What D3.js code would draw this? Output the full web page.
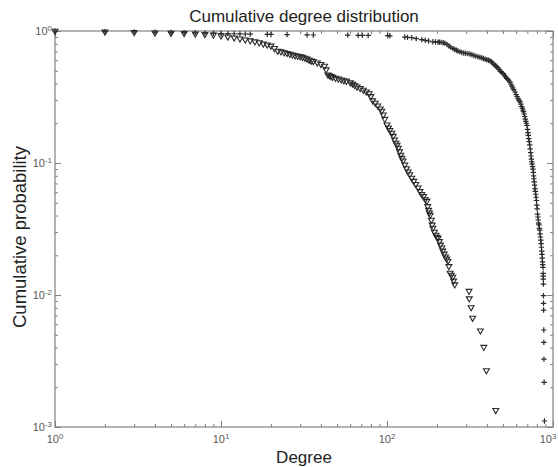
<!DOCTYPE html>
<html>
<head>
<meta charset="utf-8">
<script src="https://cdn.jsdelivr.net/npm/d3@7"></script>
<style>
  body { margin: 0; background: #fff; }
  svg { display: block; font-family: "Liberation Sans", Arial, sans-serif; }
</style>
</head>
<body>
<div id="chart"></div>
<script>
// degree values and cumulative probabilities
const triDegree = [1,2,3,4,5,6,7,8,9,10,11,12,13,14,15,16,17,18,19,20,21,22,23,24,25,26,27,28,29,30,
  31,32,33,34,35,36,38,40,42,43,44,45,46,47,49,51,53,55,57,60,62,64,66,69,72,75,78,80,82,85,88,91,93,95,97,
  100,102,104,107,109,111,113,115,117,119,121,123,125,128,131,134,137,141,145,149,154,158,162,166,170,174,
  176,178,180,182,185,187,189,193,197,200,203,207,210,214,217,221,225,229,233,236,240,244,249,252,256,
  312,313,321,328,365,383,397,452];
const triProb = [1,.985,.978,.972,.966,.96,.953,.945,.935,.922,.905,.89,.875,.86,.846,.832,.818,.80,.787,.772,
  .74,.706,.698,.688,.679,.669,.66,.652,.646,.64,.635,.625,.615,.603,.595,.59,.575,.56,.543,.51,.467,.46,.455,.448,
  .44,.434,.428,.422,.418,.408,.398,.388,.378,.368,.358,.347,.336,.32,.297,.285,.272,.258,.248,.232,.215,
  .195,.185,.177,.169,.16,.15,.142,.137,.13,.122,.115,.109,.104,.097,.091,.086,.082,.077,.073,.069,.065,.061,.058,
  .056,.053,.0515,.047,.044,.042,.0403,.037,.034,.0322,.030,.0285,.0275,.027,.0255,.024,.0228,.0216,.0205,.0195,
  .0188,.0181,.0165,.0147,.0142,.0137,.0128,.012,.0107,.0094,.00805,.0067,.00537,.00403,.00268,.00134];

const plusDegree = [1,2,3,4,5,6,7,8,9,10,11,12,13,14,15,19,20,25,33,36,58,67,71,77,101,104,128,133,141,150,
  162,170,178,189,196,203,207,212,218,223,230,236,242,250,256,262,268,275,282,290,298,307,316,325,334,343,353,
  363,372,381,390,399,408,417,425,433,441,450,458,466,474,482,491,502,510,518,526,534,542,551,558,565,572,580,
  591,600,608,616,624,633,640,647,653,659,664,670,676,681,686,691,697,702,706,710,714,719,724,729,733,737,741,
  745,749,753,757,761,764,767,771,775,779,783,787,791,795,799,803,807,811,815,819,823,828,832,836,840,844,848,
  852,855,858,861,864,867,870,872,873,874,875,876,877,878,880,881,882,884,888];
const plusProb = [1,.99,.985,.98,.976,.972,.968,.964,.96,.957,.955,.953,.951,.949,.947,.944,.942,.94,.935,.933,
  .93,.928,.927,.925,.922,.92,.9,.895,.89,.875,.86,.85,.84,.828,.826,.824,.823,.82,.815,.81,.79,.77,.755,.735,.725,
  .715,.705,.695,.688,.682,.678,.674,.67,.66,.652,.645,.638,.632,.626,.619,.612,.605,.6,.595,.585,.572,.558,.545,
  .538,.525,.51,.495,.485,.475,.462,.45,.438,.43,.42,.41,.395,.382,.37,.36,.345,.33,.318,.307,.298,.29,.279,.268,
  .26,.252,.245,.235,.225,.215,.207,.2,.193,.18,.17,.162,.153,.145,.137,.128,.12,.113,.107,.102,.098,.094,.09,.085,
  .08,.076,.072,.068,.064,.061,.058,.055,.052,.048,.045,.041,.039,.037,.035,.034,.032,.031,.029,.0275,.026,.0245,
  .023,.0215,.0203,.019,.0178,.017,.0162,.0146,.0139,.0132,.0121,.00988,.00865,.00769,.00543,.00438,.00327,.00218,.00111];

const xTicks = [1,10,100,1000];
const yTicks = [0.001,0.01,0.1,1];

const wid = 558, hei = 467;
const pLeft = 55, pRight = 553, pTop = 31, pBottom = 427;

const svg = d3.select("#chart").append("svg")
  .attr("width", wid).attr("height", hei);

const xScale = d3.scaleLog().domain([1,1000]).range([pLeft,pRight]);
const yScale = d3.scaleLog().domain([0.001,1]).range([pBottom,pTop]);

// minor ticks 2..9 in each decade
const minors = (lo, hi) => {
  const out = [];
  for (let p = lo; p < hi*0.999; p *= 10) for (let k = 2; k <= 9; k++) out.push(p*k);
  return out;
};
const xMinor = minors(1,1000), yMinor = minors(0.001,1);

const axisColor = "#808080";

// plot box
svg.append("rect")
  .attr("x",pLeft).attr("y",pTop).attr("width",pRight-pLeft).attr("height",pBottom-pTop)
  .attr("fill","none").attr("stroke",axisColor).attr("stroke-width",1.2);

function tickAxis(gen, values, size, pos){
  const g = svg.append("g").attr("transform",pos)
    .call(gen.tickValues(values).tickSizeInner(size).tickSizeOuter(0).tickFormat(""));
  g.select(".domain").remove();
  g.selectAll(".tick line").attr("stroke",axisColor);
  return g;
}

// inward ticks on all four sides
tickAxis(d3.axisBottom(xScale), xTicks, -6, `translate(0,${pBottom})`);
tickAxis(d3.axisBottom(xScale), xMinor, -3, `translate(0,${pBottom})`);
tickAxis(d3.axisTop(xScale), xTicks, -6, `translate(0,${pTop})`);
tickAxis(d3.axisTop(xScale), xMinor, -3, `translate(0,${pTop})`);
tickAxis(d3.axisLeft(yScale), yTicks, -6, `translate(${pLeft},0)`);
tickAxis(d3.axisLeft(yScale), yMinor, -3, `translate(${pLeft},0)`);
tickAxis(d3.axisRight(yScale), yTicks, -6, `translate(${pRight},0)`);
tickAxis(d3.axisRight(yScale), yMinor, -3, `translate(${pRight},0)`);

// tick labels as 10 with a raised exponent
const labelColor = "#5a5a5a";
const expLabel = (sel, d) => {
  sel.text("10");
  sel.append("tspan").attr("dy","-0.55em").attr("font-size","8px")
    .text(Math.round(Math.log10(d)));
};
svg.append("g").selectAll("text").data(xTicks).enter().append("text")
  .attr("x", d=>Math.min(xScale(d), wid-10)).attr("y", pBottom+16)
  .attr("text-anchor","middle").attr("font-size","11px").attr("fill",labelColor)
  .each(function(d){ expLabel(d3.select(this), d); });
svg.append("g").selectAll("text").data(yTicks).enter().append("text")
  .attr("x", pLeft-3).attr("y", d=>yScale(d)+4)
  .attr("text-anchor","end").attr("font-size","11px").attr("fill",labelColor)
  .each(function(d){ expLabel(d3.select(this), d); });

// series
const markColor = "#2a2a2a";
const triData = triDegree.map((k,i)=>[k,triProb[i]]);
const plusData = plusDegree.map((k,i)=>[k,plusProb[i]]);

svg.append("g").selectAll("path").data(triData).enter().append("path")
  .attr("transform", d=>`translate(${xScale(d[0])},${yScale(d[1])}) rotate(180)`)
  .attr("d", d3.symbol(d3.symbolTriangle, 15))
  .attr("fill","none").attr("stroke",markColor).attr("stroke-width",1.1);

svg.append("g").selectAll("path").data(plusData).enter().append("path")
  .attr("transform", d=>`translate(${xScale(d[0])},${yScale(d[1])})`)
  .attr("d", "M-2.7,0H2.7M0,-2.7V2.7")
  .attr("fill","none").attr("stroke",markColor).attr("stroke-width",1.2);

// titles
svg.append("text")
  .attr("x",(pLeft+pRight)/2).attr("y",22)
  .attr("text-anchor","middle").attr("font-size","17px").attr("fill","#222")
  .text("Cumulative degree distribution");
svg.append("text")
  .attr("x",(pLeft+pRight)/2).attr("y",463)
  .attr("text-anchor","middle").attr("font-size","17px").attr("fill","#222")
  .text("Degree");
svg.append("text")
  .attr("transform",`translate(26,${(pTop+pBottom)/2 + 8}) rotate(-90)`)
  .attr("text-anchor","middle").attr("font-size","18.5px").attr("fill","#222")
  .text("Cumulative probability");
</script>
</body>
</html>
